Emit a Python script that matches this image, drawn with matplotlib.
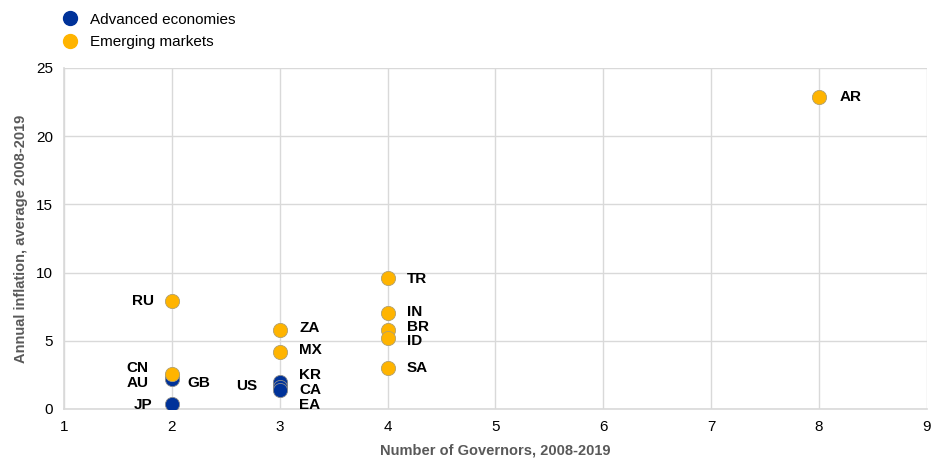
import matplotlib.pyplot as plt
from matplotlib.lines import Line2D

plt.rcParams['font.family'] = ['Liberation Sans', 'DejaVu Sans']

# advanced economies
adv_names = ["JP", "AU", "GB", "US", "KR", "CA", "EA"]
adv_governors = [2, 2, 2, 3, 3, 3, 3]
adv_inflation = [0.4, 2.4, 2.2, 1.8, 2.0, 1.6, 1.4]

# emerging markets
em_names = ["AR", "TR", "IN", "BR", "ID", "SA", "ZA", "MX", "RU", "CN"]
em_governors = [8, 4, 4, 4, 4, 4, 3, 3, 2, 2]
em_inflation = [22.9, 9.6, 7.0, 5.8, 5.2, 3.0, 5.8, 4.2, 7.9, 2.6]

BLUE = "#003299"
YELLOW = "#FFB400"

# label offsets in points (dx, dy)
offsets = {
    "JP": (-14, -1), "AU": (-17, -5), "GB": (11, -3), "US": (-16, -1),
    "KR": (14, 5), "CA": (14, -2), "EA": (14, -11),
    "RU": (-13, 0), "CN": (-17, 4),
    "AR": (15, 0), "TR": (14, -1), "IN": (14, 1), "BR": (14, 2), "ID": (14, -2),
    "SA": (14, 0), "ZA": (14, 1), "MX": (14, 1),
}

fig = plt.figure(figsize=(9.31, 4.59), dpi=100)
ax = fig.add_axes([0.0687, 0.109, 0.9270, 0.743])

ax.scatter(adv_governors, adv_inflation, s=105, color=BLUE, edgecolor="#8c8c8c",
           linewidth=0.6, zorder=3)
ax.scatter(em_governors, em_inflation, s=105, color=YELLOW, edgecolor="#b0a070",
           linewidth=0.6, zorder=4)

for names, xs, ys in [(adv_names, adv_governors, adv_inflation),
                      (em_names, em_governors, em_inflation)]:
    for n, x, y in zip(names, xs, ys):
        dx, dy = offsets[n]
        ax.annotate(n, (x, y), xytext=(dx, dy), textcoords="offset points",
                    ha="left" if dx > 0 else "right", va="center",
                    fontsize=11, fontweight="bold", color="black", zorder=5)

ax.set_xlim(1, 9)
ax.set_ylim(0, 25)
ax.set_xticks(range(1, 10))
ax.set_yticks(range(0, 30, 5))
ax.grid(True, color="#d9d9d9", linewidth=1)
ax.set_axisbelow(True)
for s in ["top", "right"]:
    ax.spines[s].set_visible(False)
for s in ["left", "bottom"]:
    ax.spines[s].set_color("#d9d9d9")
    ax.spines[s].set_linewidth(1.2)
ax.tick_params(length=0, labelsize=11, pad=8)

ax.set_xlabel("Number of Governors, 2008-2019", fontsize=10.5, fontweight="bold",
              color="#595959", labelpad=7)
ax.set_ylabel("Annual inflation, average 2008-2019", fontsize=10.5, fontweight="bold",
              color="#595959", labelpad=6)

handles = [Line2D([], [], marker="o", linestyle="", markersize=10, color=BLUE),
           Line2D([], [], marker="o", linestyle="", markersize=10, color=YELLOW)]
fig.legend(handles, ["Advanced economies", "Emerging markets"], loc="upper left",
           bbox_to_anchor=(0.052, 0.986), borderaxespad=0, frameon=False,
           fontsize=11, handletextpad=0.3, labelspacing=0.57)

fig.savefig("out.png", dpi=100)
